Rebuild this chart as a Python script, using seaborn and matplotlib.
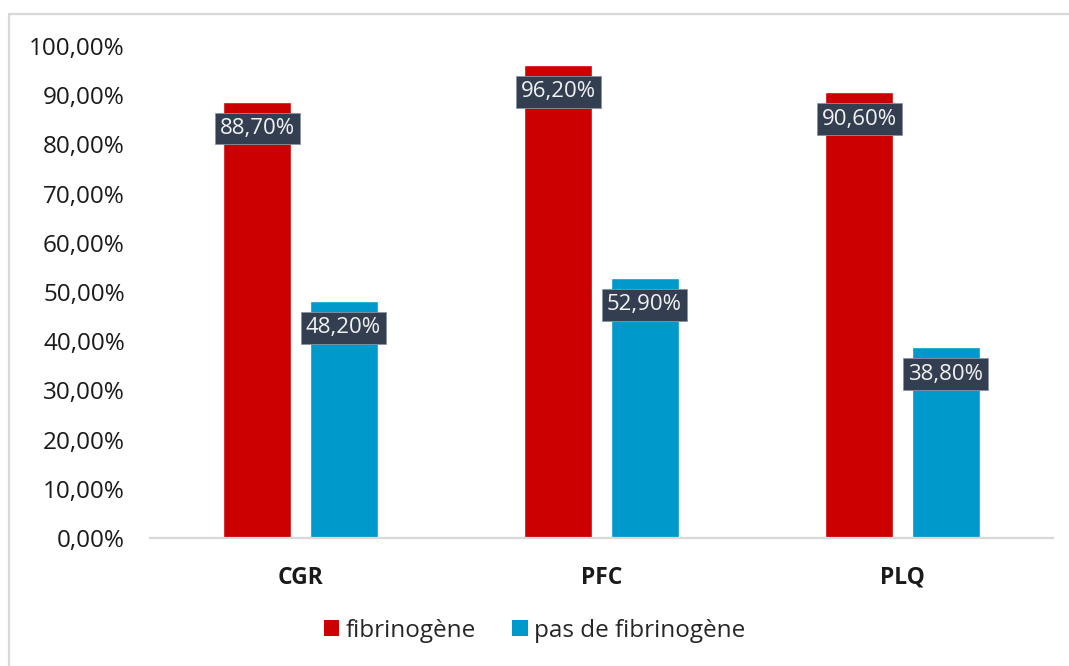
import matplotlib
matplotlib.use("Agg")
import matplotlib.pyplot as plt
from matplotlib.lines import Line2D
from matplotlib.patches import Patch
import pandas as pd
import seaborn as sns

# Data
categories = ["CGR", "PFC", "PLQ"]
series_names = ["fibrinogène", "pas de fibrinogène"]
fibrinogene = [88.70, 96.20, 90.60]
pas_de_fibrinogene = [48.20, 52.90, 38.80]
y_ticks = [0, 10, 20, 30, 40, 50, 60, 70, 80, 90, 100]

colors = {"fibrinogène": "#CC0000", "pas de fibrinogène": "#0099CC"}

df = pd.DataFrame({
    "categorie": categories * 2,
    "serie": [series_names[0]] * 3 + [series_names[1]] * 3,
    "valeur": fibrinogene + pas_de_fibrinogene,
})

sns.set_theme(style="white")
plt.rcParams["font.family"] = ["Open Sans", "DejaVu Sans"]

fig = plt.figure(figsize=(10.69, 6.66), dpi=100)
ax = fig.add_axes([0.1403, 0.1922, 0.8447, 0.7387])

sns.barplot(data=df, x="categorie", y="valeur", hue="serie",
            hue_order=series_names, order=categories, palette=colors,
            width=0.572, gap=0.21, saturation=1, legend=False, ax=ax)

ax.set_xlim(-0.5, 2.5)
ax.set_ylim(0, 100)
ax.set_yticks(y_ticks)
ax.set_yticklabels([f"{v:.2f}".replace(".", ",") + "%" for v in y_ticks],
                   fontsize=17.5, color="#1a1a1a")
ax.set_xticks(range(len(categories)))
ax.set_xticklabels(categories, fontsize=16.5, fontweight="bold", color="#1a1a1a")
ax.tick_params(axis="y", length=0, pad=18)
ax.tick_params(axis="x", length=0, pad=20)
ax.set_xlabel("")
ax.set_ylabel("")

for side in ["top", "right", "left"]:
    ax.spines[side].set_visible(False)
ax.spines["bottom"].set_color("#d9d9d9")
ax.spines["bottom"].set_linewidth(1.6)

# Value labels in dark boxes just below each bar top
for container in ax.containers:
    for bar in container:
        h = bar.get_height()
        ax.annotate(f"{h:.2f}".replace(".", ",") + "%",
                    xy=(bar.get_x() + bar.get_width() / 2, h),
                    xytext=(0, -27), textcoords="offset pixels",
                    ha="center", va="center", fontsize=16,
                    color="#f2f2f2",
                    bbox=dict(boxstyle="square,pad=0.24", fc="#333F50",
                              ec="#8895a5", lw=0.6))

# Legend
handles = [Patch(facecolor=colors[s], edgecolor="none") for s in series_names]
fig.legend(handles, series_names, loc="center", bbox_to_anchor=(0.5, 0.053),
           ncol=2, frameon=False, fontsize=17.5, handlelength=0.65,
           handleheight=0.65, handletextpad=0.25, columnspacing=1.5)

# Outer chart frame
fig.add_artist(Line2D([9 / 1069, 1.0], [1 - 14 / 666, 1 - 14 / 666],
                      transform=fig.transFigure, color="#d9d9d9", lw=1.6))
fig.add_artist(Line2D([9 / 1069, 9 / 1069], [0.0, 1 - 14 / 666],
                      transform=fig.transFigure, color="#d9d9d9", lw=1.6))

fig.savefig("out.png", dpi=100, facecolor="white")
